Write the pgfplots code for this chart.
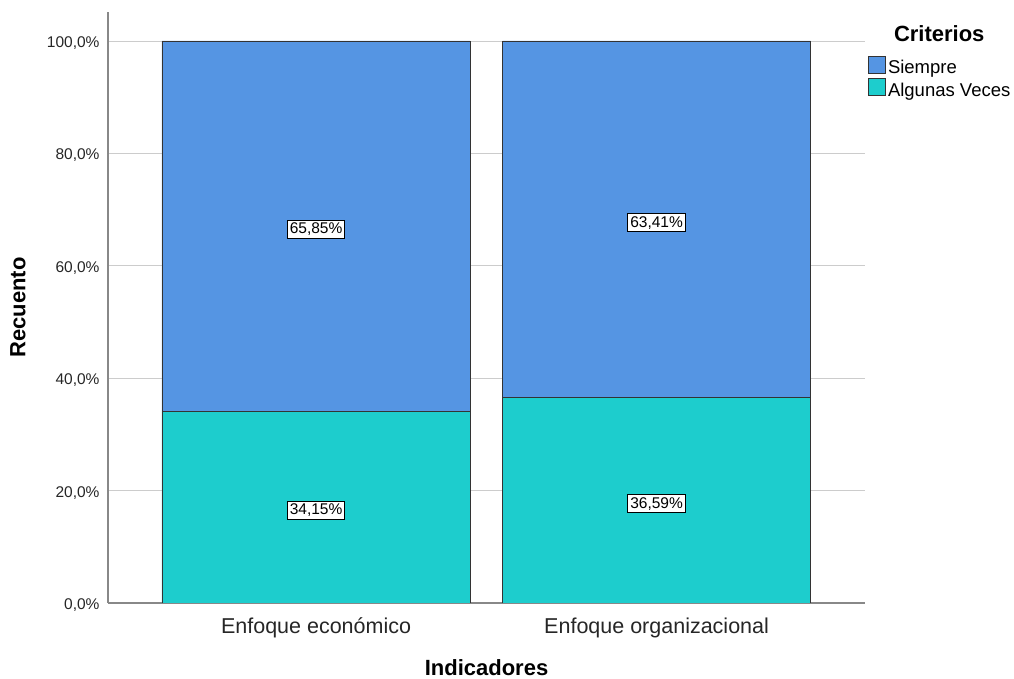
\documentclass[border=0pt]{standalone}
\usepackage{pgfplots}
\pgfplotsset{compat=1.18}
\usepackage{fontspec}
\setmainfont{Liberation Sans}
\definecolor{cblue}{HTML}{5595E3}
\definecolor{cteal}{HTML}{1DCDCD}
\definecolor{gridc}{HTML}{CCCCCC}
\definecolor{axc}{HTML}{888888}
\begin{document}
\begin{tikzpicture}[x=1pt,y=1pt]
\path[use as bounding box] (0,0) rectangle (1014,679);
\pgfplotsset{
  base/.style={
    at={(108pt,76pt)}, anchor=south west, scale only axis,
    width=757pt, height=591pt,
    xmin=-0.611, xmax=1.612, ymin=0, ymax=105.16,
    /pgf/number format/assume math mode=true,
  }
}
\begin{axis}[base,
  ybar stacked, bar width=0.905,
  axis x line=bottom, axis y line=left,
  axis line style={-, draw=axc, line width=1.2pt},
  major tick length=0pt,
  ymajorgrids, grid style={gridc, line width=0.9pt},
  ytick={0,20,40,60,80,100},
  yticklabels={{0,0\%},{20,0\%},{40,0\%},{60,0\%},{80,0\%},{100,0\%}},
  yticklabel style={font=\fontsize{15.5}{18}\selectfont, color=black!85, xshift=-5pt, yshift=-2pt},
  xtick={0,1},
  xticklabels={Enfoque económico, Enfoque organizacional},
  xticklabel style={font=\fontsize{21.5}{25}\selectfont, color=black!85, yshift=-11pt},
  ylabel={\textbf{Recuento}},
  ylabel style={font=\fontsize{22}{26}\selectfont, at={(-90pt,0.5)}, anchor=center},
  xlabel={\textbf{Indicadores}},
  xlabel style={font=\fontsize{22}{26}\selectfont, at={(0.5,-73pt)}, anchor=base},
  legend style={at={(760pt,579.5pt)}, anchor=north west, draw=none, fill=none,
    font=\fontsize{18.5}{21}\selectfont, row sep=0.5pt, inner sep=0pt},
  legend cell align=left,
  legend image code/.code={\draw[#1, draw=black!80, line width=0.8pt] (0pt,-5pt) rectangle (17pt,12pt);},
]
\addlegendimage{empty legend}
\addlegendentry{\hspace{6pt}\raisebox{10pt}{\fontsize{22}{26}\selectfont\textbf{Criterios}}}
\addplot[fill=cteal, draw=black!80, line width=0.8pt, forget plot] coordinates {(0,34.15) (1,36.59)};
\addplot[fill=cblue, draw=black!80, line width=0.8pt] coordinates {(0,65.85) (1,63.41)};
\addlegendentry{Siempre}
\addlegendimage{fill=cteal}
\addlegendentry{Algunas Veces}
\end{axis}
\begin{axis}[base, hide axis]
\addplot[draw=none, mark=none, nodes near coords, point meta=explicit symbolic,
  every node near coord/.style={anchor=center, fill=white, draw=black, line width=0.9pt,
    inner sep=2.5pt, yshift=-3.5pt, font=\fontsize{15.5}{18}\selectfont}]
  coordinates {(0,17.075)[34,15\%] (1,18.295)[36,59\%] (0,67.075)[65,85\%] (1,68.295)[63,41\%]};
\end{axis}
\end{tikzpicture}
\end{document}
